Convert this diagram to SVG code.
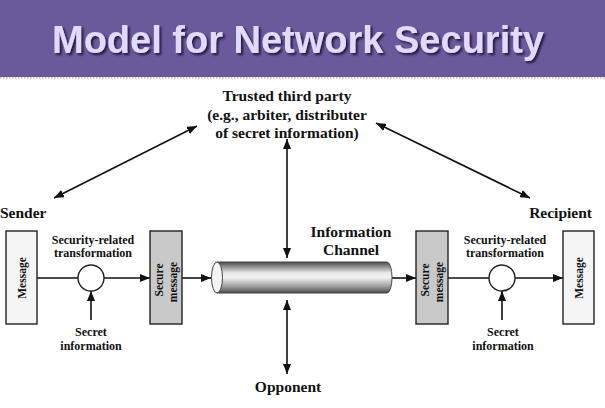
<svg xmlns="http://www.w3.org/2000/svg" width="605" height="408" viewBox="0 0 605 408">
  <style>
    .lbl { font-family: "Liberation Serif", "Times New Roman", serif; font-weight: bold; fill: #111; }
    .big { font-size: 15.5px; }
    .sm { font-size: 12px; }
    .rot { font-size: 11.5px; }
    .ln { stroke: #111; stroke-width: 1.6; fill: none; }
    .box { stroke: #222; stroke-width: 1.4; }
  </style>
  <defs>
    <marker id="ah" viewBox="0 0 10 8" refX="10" refY="4" markerWidth="10" markerHeight="8" markerUnits="userSpaceOnUse" orient="auto-start-reverse">
      <path d="M0,0 L10,4 L0,8 Z" fill="#111"/>
    </marker>
    <linearGradient id="pipe" x1="0" y1="0" x2="0" y2="1">
      <stop offset="0" stop-color="#4a4a4a"/>
      <stop offset="0.35" stop-color="#e8e8e8"/>
      <stop offset="0.5" stop-color="#f2f2f2"/>
      <stop offset="0.8" stop-color="#9a9a9a"/>
      <stop offset="1" stop-color="#4a4a4a"/>
    </linearGradient>
    <filter id="shadow" x="-5%" y="-20%" width="110%" height="140%">
      <feDropShadow dx="2" dy="2" stdDeviation="1" flood-color="#1a1030" flood-opacity="0.9"/>
    </filter>
  </defs>

  <!-- title band -->
  <g id="header">
    <rect x="0" y="0" width="605" height="77" fill="#6b5a9b"/>
    <line x1="0" y1="78" x2="605" y2="78" stroke="#9a9a9a" stroke-width="1" stroke-dasharray="1.5 1.5"/>
    <text x="298" y="53" text-anchor="middle" font-family="'Liberation Sans', Arial, sans-serif" font-weight="bold" font-size="38" fill="#e2dafe" filter="url(#shadow)">Model for Network Security</text>
  </g>

  <!-- connectors -->
  <g id="connectors">
    <line class="ln" x1="197" y1="126" x2="54" y2="198" marker-start="url(#ah)" marker-end="url(#ah)"/>
    <line class="ln" x1="376" y1="123" x2="530" y2="198" marker-start="url(#ah)" marker-end="url(#ah)"/>
    <line class="ln" x1="287" y1="139" x2="287" y2="258" marker-start="url(#ah)" marker-end="url(#ah)"/>
    <line class="ln" x1="287" y1="300" x2="287" y2="374" marker-start="url(#ah)" marker-end="url(#ah)"/>
    <!-- sender side -->
    <line class="ln" x1="37" y1="278" x2="78" y2="278"/>
    <line class="ln" x1="104" y1="278" x2="150" y2="278" marker-end="url(#ah)"/>
    <line class="ln" x1="91" y1="320" x2="91" y2="291" marker-end="url(#ah)"/>
    <line class="ln" x1="182" y1="278" x2="211" y2="278" marker-end="url(#ah)"/>
    <!-- recipient side -->
    <line class="ln" x1="392" y1="278" x2="416" y2="278" marker-end="url(#ah)"/>
    <line class="ln" x1="448" y1="278" x2="489" y2="278"/>
    <line class="ln" x1="515" y1="278" x2="563" y2="278" marker-end="url(#ah)"/>
    <line class="ln" x1="502" y1="320" x2="502" y2="291" marker-end="url(#ah)"/>
  </g>

  <g id="trusted-party">
    <text class="lbl big" x="287" y="101" text-anchor="middle">Trusted third party</text>
    <text class="lbl big" x="287" y="120" text-anchor="middle">(e.g., arbiter, distributer</text>
    <text class="lbl big" x="287" y="138" text-anchor="middle">of secret information)</text>
  </g>

  <g id="sender">
    <text class="lbl big" x="0" y="218">Sender</text>
    <rect class="box" x="6" y="231" width="31" height="93" fill="#f5f5f5"/>
    <text class="lbl rot" x="26" y="278" text-anchor="middle" transform="rotate(-90 26 278)">Message</text>
  </g>

  <g id="sender-transform">
    <circle cx="91" cy="278" r="13" fill="#fff" stroke="#222" stroke-width="1.4"/>
    <text class="lbl sm" x="93" y="244" text-anchor="middle">Security-related</text>
    <text class="lbl sm" x="93" y="257" text-anchor="middle">transformation</text>
    <text class="lbl sm" x="91" y="336" text-anchor="middle">Secret</text>
    <text class="lbl sm" x="91" y="350" text-anchor="middle">information</text>
  </g>

  <g id="sender-secure">
    <rect class="box" x="150" y="231" width="32" height="93" fill="#c9c9c9"/>
    <text class="lbl rot" x="163" y="280" text-anchor="middle" transform="rotate(-90 163 280)">Secure</text>
    <text class="lbl rot" x="177" y="282" text-anchor="middle" transform="rotate(-90 177 282)">message</text>
  </g>

  <g id="channel">
    <path d="M217,262 L387,262 A5,15.5 0 0 1 387,293 L217,293 Z" fill="url(#pipe)" stroke="#444" stroke-width="1"/>
    <ellipse cx="217" cy="277.5" rx="5.5" ry="15.5" fill="#f4f4f4" stroke="#444" stroke-width="1"/>
    <text class="lbl big" x="351" y="237" text-anchor="middle">Information</text>
    <text class="lbl big" x="351" y="255" text-anchor="middle">Channel</text>
  </g>

  <g id="opponent">
    <text class="lbl big" x="288" y="392" text-anchor="middle">Opponent</text>
  </g>

  <g id="recipient-secure">
    <rect class="box" x="416" y="231" width="32" height="93" fill="#c9c9c9"/>
    <text class="lbl rot" x="429" y="280" text-anchor="middle" transform="rotate(-90 429 280)">Secure</text>
    <text class="lbl rot" x="443" y="282" text-anchor="middle" transform="rotate(-90 443 282)">message</text>
  </g>

  <g id="recipient-transform">
    <circle cx="502" cy="278" r="13" fill="#fff" stroke="#222" stroke-width="1.4"/>
    <text class="lbl sm" x="505" y="244" text-anchor="middle">Security-related</text>
    <text class="lbl sm" x="505" y="257" text-anchor="middle">transformation</text>
    <text class="lbl sm" x="503" y="336" text-anchor="middle">Secret</text>
    <text class="lbl sm" x="503" y="350" text-anchor="middle">information</text>
  </g>

  <g id="recipient">
    <text class="lbl big" x="592" y="218" text-anchor="end">Recipient</text>
    <rect class="box" x="563" y="231" width="31" height="93" fill="#f5f5f5"/>
    <text class="lbl rot" x="583" y="278" text-anchor="middle" transform="rotate(-90 583 278)">Message</text>
  </g>
</svg>
